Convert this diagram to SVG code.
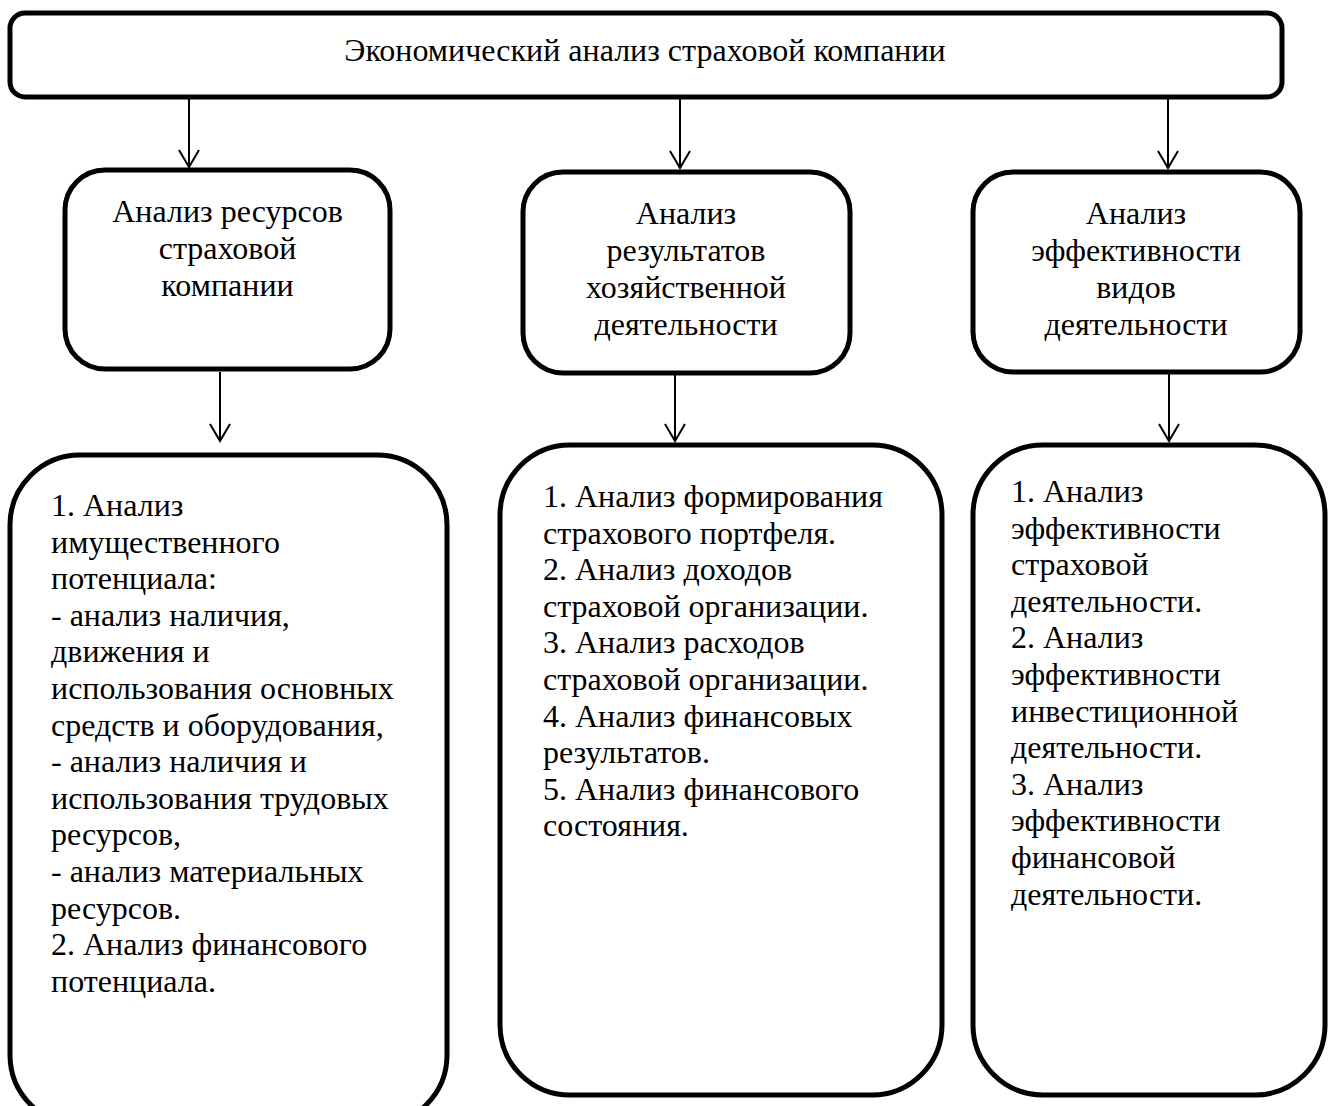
<svg xmlns="http://www.w3.org/2000/svg" width="1330" height="1106" viewBox="0 0 1330 1106">
<style>
.box{fill:#fff;stroke:#000;stroke-width:5}
.t{font-family:"Liberation Serif","Times New Roman",serif;font-size:32px;fill:#000}
.c{text-anchor:middle}
.conn line{stroke:#000;stroke-width:2}
.conn path{fill:none;stroke:#000;stroke-width:2}
</style>
<rect width="1330" height="1106" fill="#fff"/>
<g id="connectors" class="conn">
<line x1="189" y1="97" x2="189" y2="167"/><path d="M179,150 L189,167 L199,150"/>
<line x1="680" y1="97" x2="680" y2="168"/><path d="M670,151 L680,168 L690,151"/>
<line x1="1168" y1="97" x2="1168" y2="168"/><path d="M1158,151 L1168,168 L1178,151"/>
<line x1="220" y1="372" x2="220" y2="441"/><path d="M210,424 L220,441 L230,424"/>
<line x1="675" y1="373" x2="675" y2="441"/><path d="M665,424 L675,441 L685,424"/>
<line x1="1169" y1="372" x2="1169" y2="441"/><path d="M1159,424 L1169,441 L1179,424"/>
</g>
<g id="top">
<rect class="box" x="10" y="13" width="1272" height="84" rx="15"/>
<text class="t c" x="645" y="61">Экономический анализ страховой компании</text>
</g>
<g id="a1">
<rect class="box" x="65" y="170" width="325" height="199" rx="40"/>
<text class="t c" x="227.5" y="222">Анализ ресурсов</text>
<text class="t c" x="227.5" y="259">страховой</text>
<text class="t c" x="227.5" y="296">компании</text>
</g>
<g id="a2">
<rect class="box" x="523" y="172" width="327" height="201" rx="40"/>
<text class="t c" x="686" y="224">Анализ</text>
<text class="t c" x="686" y="261">результатов</text>
<text class="t c" x="686" y="298">хозяйственной</text>
<text class="t c" x="686" y="335">деятельности</text>
</g>
<g id="a3">
<rect class="box" x="973" y="172" width="327" height="200" rx="40"/>
<text class="t c" x="1136" y="224">Анализ</text>
<text class="t c" x="1136" y="261">эффективности</text>
<text class="t c" x="1136" y="298">видов</text>
<text class="t c" x="1136" y="335">деятельности</text>
</g>
<g id="b1">
<rect class="box" x="10" y="455" width="437" height="670" rx="70"/>
<text class="t" x="51" y="516">1. Анализ</text>
<text class="t" x="51" y="552.6">имущественного</text>
<text class="t" x="51" y="589.2">потенциала:</text>
<text class="t" x="51" y="625.8">- анализ наличия,</text>
<text class="t" x="51" y="662.4">движения и</text>
<text class="t" x="51" y="699">использования основных</text>
<text class="t" x="51" y="735.6">средств и оборудования,</text>
<text class="t" x="51" y="772.2">- анализ наличия и</text>
<text class="t" x="51" y="808.8">использования трудовых</text>
<text class="t" x="51" y="845.4">ресурсов,</text>
<text class="t" x="51" y="882">- анализ материальных</text>
<text class="t" x="51" y="918.6">ресурсов.</text>
<text class="t" x="51" y="955.2">2. Анализ финансового</text>
<text class="t" x="51" y="991.8">потенциала.</text>
</g>
<g id="b2">
<rect class="box" x="500" y="445" width="442" height="650" rx="70"/>
<text class="t" x="543" y="507">1. Анализ формирования</text>
<text class="t" x="543" y="543.6">страхового портфеля.</text>
<text class="t" x="543" y="580.2">2. Анализ доходов</text>
<text class="t" x="543" y="616.8">страховой организации.</text>
<text class="t" x="543" y="653.4">3. Анализ расходов</text>
<text class="t" x="543" y="690">страховой организации.</text>
<text class="t" x="543" y="726.6">4. Анализ финансовых</text>
<text class="t" x="543" y="763.2">результатов.</text>
<text class="t" x="543" y="799.8">5. Анализ финансового</text>
<text class="t" x="543" y="836.4">состояния.</text>
</g>
<g id="b3">
<rect class="box" x="973" y="445" width="352" height="650" rx="70"/>
<text class="t" x="1011" y="502">1. Анализ</text>
<text class="t" x="1011" y="538.6">эффективности</text>
<text class="t" x="1011" y="575.2">страховой</text>
<text class="t" x="1011" y="611.8">деятельности.</text>
<text class="t" x="1011" y="648.4">2. Анализ</text>
<text class="t" x="1011" y="685">эффективности</text>
<text class="t" x="1011" y="721.6">инвестиционной</text>
<text class="t" x="1011" y="758.2">деятельности.</text>
<text class="t" x="1011" y="794.8">3. Анализ</text>
<text class="t" x="1011" y="831.4">эффективности</text>
<text class="t" x="1011" y="868">финансовой</text>
<text class="t" x="1011" y="904.6">деятельности.</text>
</g>
</svg>
